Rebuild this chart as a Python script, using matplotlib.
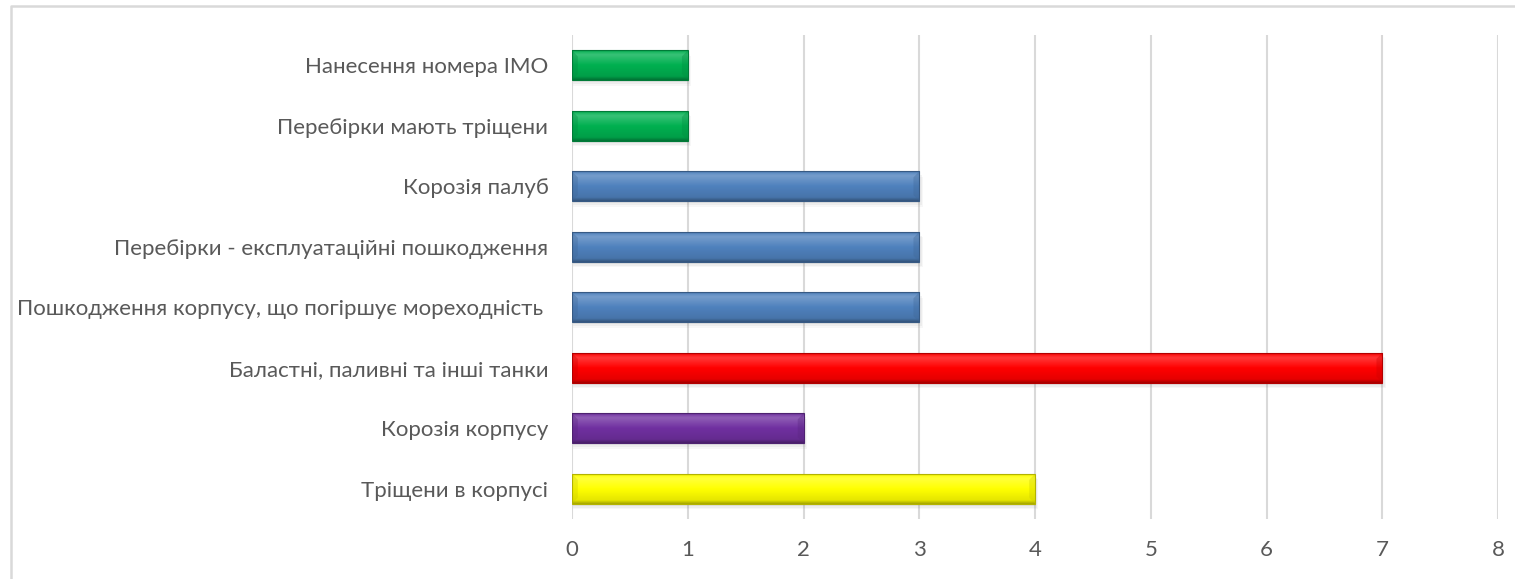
import numpy as np
import matplotlib.pyplot as plt
from matplotlib.colors import to_rgb
from matplotlib.lines import Line2D
from matplotlib.patches import Polygon

# data, top to bottom as in the chart
categories = [
    "Нанесення номера IMO",
    "Перебірки мають тріщени",
    "Корозія палуб",
    "Перебірки - експлуатаційні пошкодження",
    "Пошкодження корпусу, що погіршує мореходність ",
    "Баластні, паливні та інші танки",
    "Корозія корпусу",
    "Тріщени в корпусі",
]
counts = [1, 1, 3, 3, 3, 7, 2, 4]
bar_colors = ["#00B050", "#00B050", "#4F81BD", "#4F81BD", "#4F81BD",
              "#FF0000", "#7030A0", "#FFFF00"]
x_ticks = [0, 1, 2, 3, 4, 5, 6, 7, 8]

plt.rcParams["font.family"] = ["Lato", "DejaVu Sans"]
text_color = "#595959"
grid_color = "#D9D9D9"

fig = plt.figure(figsize=(15.15, 5.79), dpi=100)
ax = fig.add_axes([572 / 1515, 1 - 519 / 579, (1498 - 572) / 1515, (519 - 35) / 579])

n = len(categories)
ypos = np.arange(n)[::-1]
h = 0.49


def shade(c, f):
    c = np.array(to_rgb(c))
    if f >= 0:
        return c + (1 - c) * f
    return c * (1 + f)


for y, v, c in zip(ypos, counts, bar_colors):
    b0, b1 = y - h / 2, y + h / 2
    # soft shadow under the bar
    for k, a in enumerate([0.10, 0.08, 0.06]):
        off = 0.04 + 0.025 * k
        ax.add_patch(plt.Rectangle((0.01, b0 - off), v + 0.01 * k, h, facecolor="#7F7F7F",
                                   edgecolor="none", alpha=a, zorder=2))
    # vertical gradient: darker bottom, highlight near top
    stops = [(0.0, shade(c, -0.35)), (0.12, shade(c, -0.10)), (0.5, shade(c, 0.0)),
             (0.85, shade(c, 0.22)), (0.93, shade(c, 0.12)), (1.0, shade(c, -0.10))]
    rows = 60
    t = np.linspace(0, 1, rows)
    grad = np.zeros((rows, 1, 3))
    for k in range(3):
        grad[:, 0, k] = np.interp(t, [s[0] for s in stops], [s[1][k] for s in stops])
    grad = np.clip(grad, 0, 1)
    ax.imshow(grad, extent=(0, v, b0, b1), origin="lower",
              aspect="auto", interpolation="bilinear", zorder=3)
    # bevelled ends
    d = 0.05
    ax.add_patch(Polygon([(0, b0), (d, b0 + h * 0.2), (d, b1 - h * 0.2), (0, b1)],
                         closed=True, facecolor=shade(c, -0.2), edgecolor="none",
                         alpha=0.35, zorder=4))
    ax.add_patch(Polygon([(v, b0), (v - d, b0 + h * 0.2), (v - d, b1 - h * 0.2), (v, b1)],
                         closed=True, facecolor=shade(c, -0.2), edgecolor="none",
                         alpha=0.35, zorder=4))
    ax.add_patch(plt.Rectangle((0, b0), v, h, fill=False,
                               edgecolor=shade(c, -0.3), linewidth=0.8, zorder=5))

ax.set_xlim(0, 8)
ax.set_ylim(-0.5, n - 0.5)
ax.set_xticks(x_ticks)
ax.set_xticklabels([str(t) for t in x_ticks])
ax.set_yticks(ypos)
ax.set_yticklabels(categories)
ax.tick_params(axis="both", length=0, labelsize=16, colors=text_color)
ax.tick_params(axis="x", pad=15)
ax.tick_params(axis="y", pad=17)
ax.grid(axis="x", color=grid_color, linewidth=1.5, zorder=0)
ax.set_axisbelow(True)
for s in ax.spines.values():
    s.set_visible(False)

# outer chart frame (only top and left edges visible)
fig.add_artist(Line2D([11 / 1515, 11 / 1515, 1.0], [0.0, 1 - 6 / 579, 1 - 6 / 579],
                      transform=fig.transFigure, color=grid_color, linewidth=1.8))

fig.savefig("out.png", dpi=100)
